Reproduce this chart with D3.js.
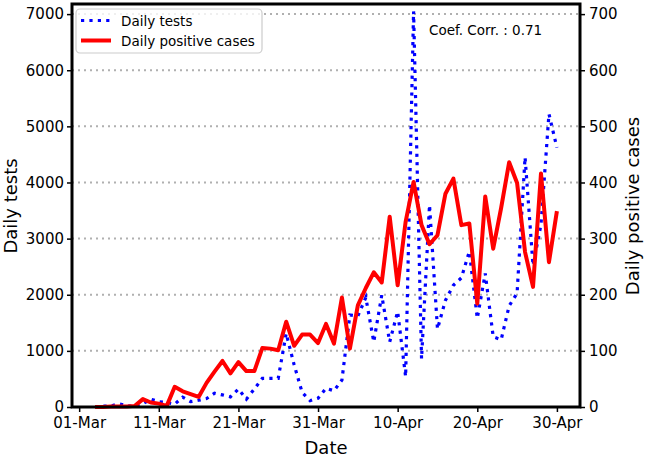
<!DOCTYPE html>
<html>
<head>
<meta charset="utf-8">
<script src="https://cdn.jsdelivr.net/npm/d3@7"></script>
<style>
  html, body { margin: 0; padding: 0; background: #fff; }
  svg { display: block; font-family: "DejaVu Sans", sans-serif; }
</style>
</head>
<body>
<svg id="chart" width="646" height="458"></svg>
<script>
// ---- data ----
const dates = [
  "2020-03-03","2020-03-04","2020-03-05","2020-03-06","2020-03-07","2020-03-08","2020-03-09","2020-03-10",
  "2020-03-11","2020-03-12","2020-03-13","2020-03-14","2020-03-15","2020-03-16","2020-03-17","2020-03-18",
  "2020-03-19","2020-03-20","2020-03-21","2020-03-22","2020-03-23","2020-03-24","2020-03-25","2020-03-26",
  "2020-03-27","2020-03-28","2020-03-29","2020-03-30","2020-03-31","2020-04-01","2020-04-02","2020-04-03",
  "2020-04-04","2020-04-05","2020-04-06","2020-04-07","2020-04-08","2020-04-09","2020-04-10","2020-04-11",
  "2020-04-12","2020-04-13","2020-04-14","2020-04-15","2020-04-16","2020-04-17","2020-04-18","2020-04-19",
  "2020-04-20","2020-04-21","2020-04-22","2020-04-23","2020-04-24","2020-04-25","2020-04-26","2020-04-27",
  "2020-04-28","2020-04-29","2020-04-30"
];
const dailyTests = [
  0, 15, 20, 55, 20, 10, 60, 140,
  95, 80, 50, 175, 95, 120, 150, 245,
  215, 180, 320, 140, 320, 510, 510, 510,
  1310, 750, 260, 112, 155, 333, 290, 480,
  1640, 1620, 1950, 1160, 1990, 1160, 1700, 540,
  7050, 860, 3600, 1390, 1900, 2170, 2300, 2770,
  1580, 2380, 1250, 1200, 1800, 2030, 4450, 2520,
  3250, 5220, 4620
];
const dailyCases = [
  0, 0, 1, 1, 1, 2, 14, 8,
  6, 2, 36, 28, 23, 18, 43, 63,
  82, 60, 80, 64, 64, 105, 104, 101,
  152, 109, 129, 129, 114, 148, 113, 195,
  104, 181, 212, 240, 222, 339, 217, 330,
  401, 324, 290, 306, 380, 407, 324, 327,
  184, 375, 282, 355, 436, 399, 276, 214,
  416, 258, 349
];
const leftTicks = [0, 1000, 2000, 3000, 4000, 5000, 6000, 7000];
const rightTicks = [0, 100, 200, 300, 400, 500, 600, 700];
const xTickDates = ["2020-03-01","2020-03-11","2020-03-21","2020-03-31","2020-04-10","2020-04-20","2020-04-30"];
const seriesNames = ["Daily tests", "Daily positive cases"];
const corrText = "Coef. Corr. : 0.71";

// ---- layout ----
const svg = d3.select("#chart");
const L = 72, R = 580, T = 4, B = 407;
const parse = d3.timeParse("%Y-%m-%d");
const dts = dates.map(parse);
const pad = 2.9 * 864e5;
const x = d3.scaleTime()
  .domain([new Date(dts[0].getTime() - pad), new Date(dts[dts.length - 1].getTime() + pad)])
  .range([L, R]);
const yL = d3.scaleLinear().domain([0, 7180]).range([B, T]);
const yR = d3.scaleLinear().domain([0, 718]).range([B, T]);

svg.append("rect").attr("width", 646).attr("height", 458).attr("fill", "#fff");

// grid
svg.append("g").selectAll("line").data(leftTicks.filter(d => d > 0)).join("line")
  .attr("x1", L).attr("x2", R)
  .attr("y1", d => yL(d)).attr("y2", d => yL(d))
  .attr("stroke", "#b0b0b0").attr("stroke-width", 2)
  .attr("stroke-dasharray", "2,4");

// lines
const lineT = d3.line().x((d, i) => x(dts[i])).y(d => yL(d));
const lineC = d3.line().x((d, i) => x(dts[i])).y(d => yR(d));

svg.append("path").datum(dailyTests)
  .attr("d", lineT).attr("fill", "none")
  .attr("stroke", "#0000ff").attr("stroke-width", 3.2)
  .attr("stroke-dasharray", "3.2,5.2");

svg.append("path").datum(dailyCases)
  .attr("d", lineC).attr("fill", "none")
  .attr("stroke", "#ff0000").attr("stroke-width", 4)
  .attr("stroke-linejoin", "round");

// axes
const fmt = d3.format("d");
const axL = d3.axisLeft(yL).tickValues(leftTicks).tickFormat(fmt).tickSize(5).tickPadding(3);
const axR = d3.axisRight(yR).tickValues(rightTicks).tickFormat(fmt).tickSize(5).tickPadding(4);
const axB = d3.axisBottom(x).tickValues(xTickDates.map(parse))
  .tickFormat(d3.timeFormat("%d-%b")).tickSize(5).tickPadding(5);

function styleAxis(g) {
  g.select(".domain").remove();
  g.selectAll(".tick line").attr("stroke", "#000").attr("stroke-width", 1.5);
  g.selectAll(".tick text").attr("fill", "#000")
    .style("font-family", "DejaVu Sans").style("font-size", "15px");
}
svg.append("g").attr("transform", `translate(${L},0)`).call(axL).call(styleAxis);
svg.append("g").attr("transform", `translate(${R},0)`).call(axR).call(styleAxis);
svg.append("g").attr("transform", `translate(0,${B})`).call(axB).call(styleAxis);

// frame
svg.append("rect").attr("x", L).attr("y", T).attr("width", R - L).attr("height", B - T)
  .attr("fill", "none").attr("stroke", "#000").attr("stroke-width", 3);

// axis labels
svg.append("text").attr("transform", "translate(17,206) rotate(-90)")
  .attr("text-anchor", "middle").style("font-size", "18px").text("Daily tests");
svg.append("text").attr("transform", "translate(639,206) rotate(-90)")
  .attr("text-anchor", "middle").style("font-size", "18px").text("Daily positive cases");
svg.append("text").attr("x", (L + R) / 2).attr("y", 454)
  .attr("text-anchor", "middle").style("font-size", "18px").text("Date");

// legend
const lg = svg.append("g");
lg.append("rect").attr("x", 76).attr("y", 9).attr("width", 186).attr("height", 44)
  .attr("rx", 4).attr("fill", "#fff").attr("fill-opacity", 0.8)
  .attr("stroke", "#cccccc").attr("stroke-width", 1.2);
lg.append("line").attr("x1", 81).attr("x2", 111).attr("y1", 20.5).attr("y2", 20.5)
  .attr("stroke", "#0000ff").attr("stroke-width", 3.2).attr("stroke-dasharray", "3.2,5.2");
lg.append("line").attr("x1", 81).attr("x2", 111).attr("y1", 40.5).attr("y2", 40.5)
  .attr("stroke", "#ff0000").attr("stroke-width", 4);
lg.append("text").attr("x", 121).attr("y", 25.5).style("font-size", "13.5px").text(seriesNames[0]);
lg.append("text").attr("x", 121).attr("y", 45.5).style("font-size", "13.5px").text(seriesNames[1]);

// annotation
svg.append("text").attr("x", 429).attr("y", 35).style("font-size", "13.5px").text(corrText);
</script>
</body>
</html>
